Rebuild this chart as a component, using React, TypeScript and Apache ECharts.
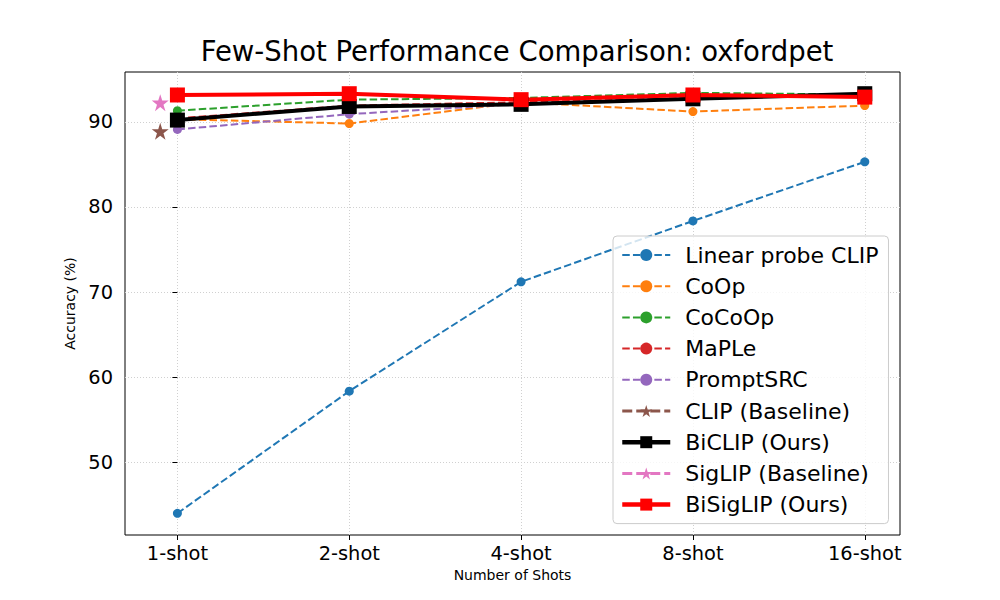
import React, { useEffect, useRef } from "react";
import * as echarts from "echarts";

const shotLabels = ["1-shot", "2-shot", "4-shot", "8-shot", "16-shot"];
const shotPositions = [0, 1, 2, 3, 4];
const baselinePosition = -0.1;

const linearProbe = [44.0, 58.35, 71.2, 78.35, 85.3];
const coop = [90.3, 89.8, 92.3, 91.2, 91.9];
const cocoop = [91.3, 92.6, 92.8, 93.4, 93.2];
const maple = [90.4, 91.9, 92.3, 92.8, 93.1];
const promptsrc = [89.1, 90.9, 92.1, 92.8, 93.1];
const clipBaseline = 88.9;
const biclip = [90.2, 91.8, 92.05, 92.7, 93.3];
const siglipBaseline = 92.25;
const bisiglip = [93.15, 93.3, 92.6, 93.15, 92.9];

const yTicks = [50, 60, 70, 80, 90];

const STAR =
  "path://M50,0 L61.2,34.5 L97.6,34.5 L68.2,55.9 L79.4,90.5 L50,69.1 L20.6,90.5 L31.8,55.9 L2.4,34.5 L38.8,34.5 Z";

const FONT = "DejaVu Sans";
const DASH = [7.5, 3.2];
const BASE_DASH = [10, 4];

function pair(values: number[]) {
  return values.map((v, i) => [shotPositions[i], v]);
}

export default function App() {
  const ref = useRef<HTMLDivElement>(null);
  useEffect(() => {
    document.body.style.margin = "0";
    const chart = echarts.init(ref.current!, null, { renderer: "svg" });
    const dashedSeries = (name: string, color: string, values: number[]) => ({
      name,
      type: "line",
      data: pair(values),
      symbol: "circle",
      symbolSize: 9,
      itemStyle: { color },
      lineStyle: { color, width: 2, type: DASH },
    });
    chart.setOption({
      animation: false,
      backgroundColor: "#ffffff",
      title: {
        text: "Few-Shot Performance Comparison: oxfordpet",
        left: 512,
        textAlign: "center",
        top: 32,
        textStyle: { fontFamily: FONT, fontSize: 27.5, fontWeight: "normal", color: "#000" },
      },
      grid: {
        left: 125,
        top: 72,
        width: 775,
        height: 463,
        show: true,
        borderColor: "#000",
        borderWidth: 1,
        backgroundColor: "transparent",
      },
      legend: {
        orient: "vertical",
        left: 613,
        top: 236,
        padding: [8, 10, 8, 7],
        itemWidth: 48,
        itemHeight: 15,
        itemGap: 9.2,
        backgroundColor: "rgba(255,255,255,0.8)",
        borderColor: "#cccccc",
        borderWidth: 1,
        borderRadius: 4,
        textStyle: { fontFamily: FONT, fontSize: 22, color: "#000", padding: [0, 0, 0, 10] },
        data: [
          { name: "Linear probe CLIP", lineStyle: { width: 2, type: DASH } },
          { name: "CoOp", lineStyle: { width: 2, type: DASH } },
          { name: "CoCoOp", lineStyle: { width: 2, type: DASH } },
          { name: "MaPLe", lineStyle: { width: 2, type: DASH } },
          { name: "PromptSRC", lineStyle: { width: 2, type: DASH } },
          { name: "CLIP (Baseline)", lineStyle: { width: 3, type: BASE_DASH } },
          { name: "BiCLIP (Ours)", lineStyle: { width: 4.5, type: "solid" } },
          { name: "SigLIP (Baseline)", lineStyle: { width: 3, type: BASE_DASH } },
          { name: "BiSigLIP (Ours)", lineStyle: { width: 4.5, type: "solid" } },
        ],
      },
      xAxis: {
        type: "value",
        min: -0.305,
        max: 4.205,
        name: "Number of Shots",
        nameLocation: "middle",
        nameGap: 31,
        nameTextStyle: { fontFamily: FONT, fontSize: 14, color: "#000" },
        axisLine: { show: false },
        axisTick: {
          show: true,
          length: 5,
          inside: false,
          customValues: shotPositions,
          lineStyle: { color: "#000", width: 1 },
        },
        axisLabel: {
          customValues: shotPositions,
          formatter: (v: number) => shotLabels[Math.round(v)] ?? "",
          fontFamily: FONT,
          fontSize: 19.4,
          color: "#000",
          margin: 9,
        },
        splitLine: { show: true, lineStyle: { color: "#d0d0d0", type: [1, 2], width: 1 } },
      },
      yAxis: {
        type: "value",
        min: 41.45,
        max: 95.85,
        name: "Accuracy (%)",
        nameLocation: "middle",
        nameGap: 41,
        nameRotate: 90,
        nameTextStyle: { fontFamily: FONT, fontSize: 14, color: "#000" },
        axisLine: { show: false },
        axisTick: {
          show: true,
          length: 5,
          inside: false,
          customValues: yTicks,
          lineStyle: { color: "#000", width: 1 },
        },
        axisLabel: {
          customValues: yTicks,
          fontFamily: FONT,
          fontSize: 19.4,
          color: "#000",
          margin: 12,
        },
        splitLine: { show: true, lineStyle: { color: "#d0d0d0", type: [1, 2], width: 1 } },
      },
      series: [
        dashedSeries("Linear probe CLIP", "#1f77b4", linearProbe),
        dashedSeries("CoOp", "#ff7f0e", coop),
        dashedSeries("CoCoOp", "#2ca02c", cocoop),
        dashedSeries("MaPLe", "#d62728", maple),
        dashedSeries("PromptSRC", "#9467bd", promptsrc),
        {
          name: "CLIP (Baseline)",
          type: "line",
          data: [[baselinePosition, clipBaseline]],
          symbol: STAR,
          symbolSize: 17,
          itemStyle: { color: "#8c564b" },
          lineStyle: { color: "#8c564b", width: 3, type: BASE_DASH },
        },
        {
          name: "BiCLIP (Ours)",
          type: "line",
          data: pair(biclip),
          symbol: "rect",
          symbolSize: 15,
          itemStyle: { color: "#000000" },
          lineStyle: { color: "#000000", width: 4 },
        },
        {
          name: "SigLIP (Baseline)",
          type: "line",
          data: [[baselinePosition, siglipBaseline]],
          symbol: STAR,
          symbolSize: 17,
          itemStyle: { color: "#e377c2" },
          lineStyle: { color: "#e377c2", width: 3, type: BASE_DASH },
        },
        {
          name: "BiSigLIP (Ours)",
          type: "line",
          data: pair(bisiglip),
          symbol: "rect",
          symbolSize: 15,
          itemStyle: { color: "#ff0000" },
          lineStyle: { color: "#ff0000", width: 4 },
        },
      ],
    });
    return () => chart.dispose();
  }, []);
  return (
    <div
      ref={ref}
      style={{ position: "absolute", left: 0, top: 0, width: 1000, height: 600 }}
    />
  );
}
